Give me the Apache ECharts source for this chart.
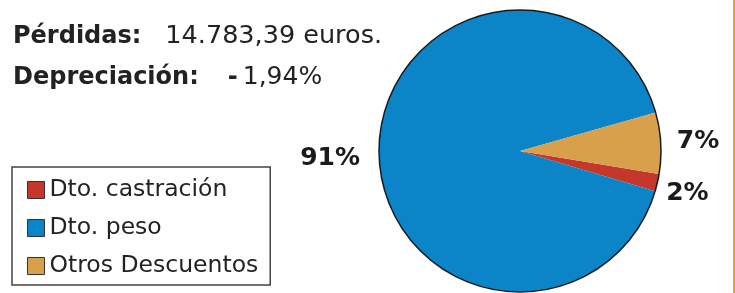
<!DOCTYPE html>
<html>
<head>
<meta charset="utf-8">
<script src="https://cdn.jsdelivr.net/npm/echarts@6/dist/echarts.min.js"></script>
<style>
  html, body { margin: 0; padding: 0; background: #fff; }
  #chart { width: 735px; height: 293px; }
</style>
</head>
<body>
<div id="chart"></div>
<script>
// datos del gráfico
const categorias = ["Dto. castración", "Dto. peso", "Otros Descuentos"];
const porcentajes = [2, 91, 7];
const colores = ["#c4372a", "#0b84c8", "#d8a04a"];
const perdidas = "14.783,39 euros.";
const depreciacion = "1,94%";

const chart = echarts.init(document.getElementById("chart"));

const font = "DejaVu Sans";
// pequeños ajustes de las etiquetas del pastel
const ajusteEtiquetas = [[-10, 9], [0, 9], [-3, -1]];

const option = {
  backgroundColor: "#fff",
  animation: false,
  title: {
    left: 8,
    top: 11,
    text:
      "{b|Pérdidas:}{r1|" + perdidas + "}\n" +
      "{b|Depreciación:}{guion|-}{r2|" + depreciacion + "}",
    textStyle: {
      fontWeight: "normal",
      rich: {
        b: { fontFamily: font, fontWeight: "bold", fontSize: 24, color: "#222", lineHeight: 41 },
        guion: { fontFamily: font, fontWeight: "bold", fontSize: 24, color: "#222", lineHeight: 41, padding: [0, 0, 0, 29] },
        r1: { fontFamily: font, fontWeight: "normal", fontSize: 25.5, color: "#222", lineHeight: 41, padding: [0, 0, 0, 24] },
        r2: { fontFamily: font, fontWeight: "normal", fontSize: 25, color: "#222", lineHeight: 41, padding: [0, 0, 0, 5] },
      },
    },
  },
  legend: {
    orient: "vertical",
    left: 12,
    top: 167,
    data: categorias,
    icon: "rect",
    itemWidth: 17,
    itemHeight: 17,
    itemGap: 14,
    padding: [11, 12, 7, 15],
    backgroundColor: "#fff",
    borderColor: "#444",
    borderWidth: 1.5,
    itemStyle: { borderColor: "#333", borderWidth: 1 },
    textStyle: { fontFamily: font, fontSize: 23.5, color: "#222", lineHeight: 24 },
  },
  graphic: [
    {
      // borde naranja del margen derecho
      type: "rect",
      right: 0,
      top: 0,
      shape: { width: 2, height: 293 },
      style: { fill: "#e8a030" },
      silent: true,
    },
  ],
  series: [
    {
      type: "pie",
      center: [520, 151],
      radius: 141,
      startAngle: -9.4,
      clockwise: true,
      avoidLabelOverlap: false,
      data: categorias.map((name, i) => ({
        name,
        value: porcentajes[i],
        itemStyle: { color: colores[i] },
      })),
      itemStyle: { borderWidth: 0 },
      label: {
        show: true,
        position: "outside",
        formatter: "{c}%",
        fontFamily: font,
        fontWeight: "bold",
        fontSize: 25,
        color: "#1a1a1a",
      },
      labelLine: { show: false, length: 10, length2: 4 },
      labelLayout: (params) => ({
        dx: ajusteEtiquetas[params.dataIndex][0],
        dy: ajusteEtiquetas[params.dataIndex][1],
      }),
      emphasis: { disabled: true },
    },
    {
      // contorno del círculo
      type: "pie",
      center: [520, 151],
      radius: 141,
      silent: true,
      label: { show: false },
      labelLine: { show: false },
      data: [{ value: 1, name: "contorno" }],
      itemStyle: { color: "rgba(0,0,0,0)", borderColor: "#1a1a1a", borderWidth: 1.5 },
      emphasis: { disabled: true },
    },
  ],
};

chart.setOption(option);
</script>
</body>
</html>
